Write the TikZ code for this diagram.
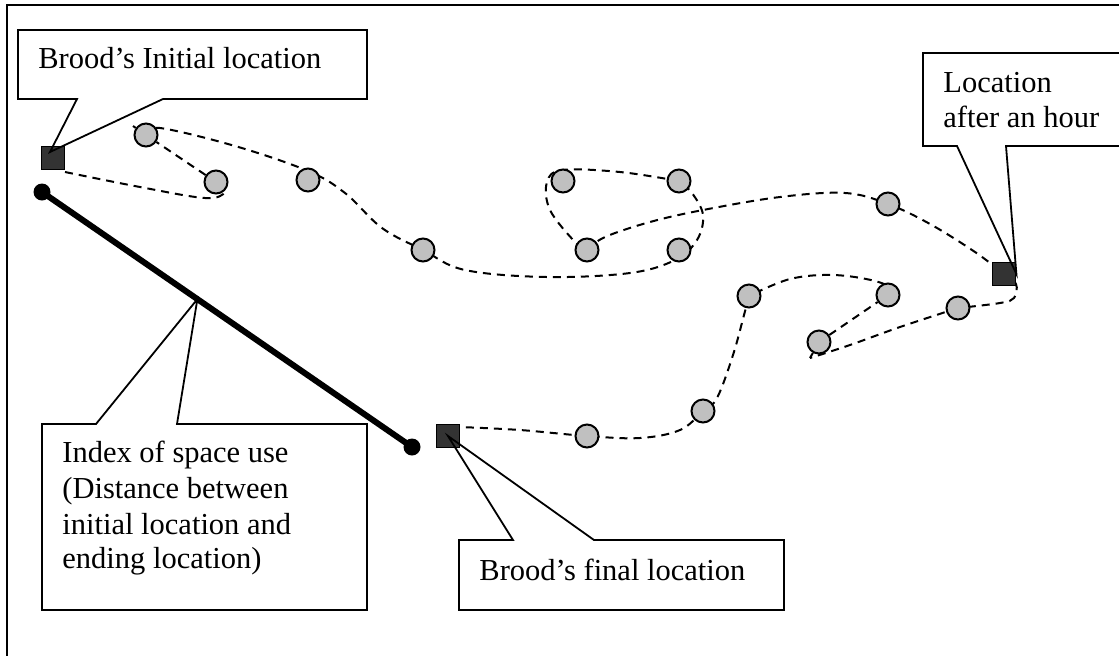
\documentclass[tikz,border=0pt]{standalone}
\usepackage{fontspec}
\setmainfont{Liberation Serif}
\usetikzlibrary{calc}
\pgfdeclarelayer{background}
\pgfsetlayers{background,main}
\definecolor{sqdark}{HTML}{333333}
\definecolor{spotgray}{HTML}{C0C0C0}
\begin{document}
\begin{tikzpicture}[x=0.5pt,y=-0.5pt,
  track/.style={line width=1pt, dash pattern=on 4pt off 3pt},
  spot/.style={circle, draw, fill=spotgray, line width=1pt, minimum size=11.5pt, inner sep=0pt},
  loc/.style={rectangle, draw, fill=sqdark, line width=0.9pt, minimum size=11.5pt, inner sep=0pt},
  enddot/.style={circle, fill=black, minimum size=8.5pt, inner sep=0pt},
  callout/.style={draw, line width=0.9pt, line join=miter},
  lbl/.style={anchor=base west, inner sep=0pt, font=\fontsize{15.25}{17.5}\selectfont}]
\useasboundingbox (0,0) rectangle (1119,655);
% frame
\draw[line width=1pt] (1130,5) -- (7,5) -- (7,665);
% locations
\node[spot] (A) at (146,135) {};
\node[spot] (B) at (216,182) {};
\node[spot] (C) at (308,180) {};
\node[spot] (D) at (423,250) {};
\node[spot] (E) at (563,181) {};
\node[spot] (F) at (679,181) {};
\node[spot] (G) at (587,250) {};
\node[spot] (H) at (679,250) {};
\node[spot] (I) at (888,204) {};
\node[spot] (K) at (958,308) {};
\node[spot] (L) at (819,342) {};
\node[spot] (M) at (888,295) {};
\node[spot] (N) at (749,296) {};
\node[spot] (O) at (703,411) {};
\node[spot] (P) at (587,436) {};
\node[loc] (S1) at (53,158) {};
\node[loc] (J) at (1004,274) {};
\node[loc] (S2) at (448,436) {};
% dashed track
\begin{pgfonlayer}{background}
\draw[track] plot[smooth,tension=0.6] coordinates {(65,172) (140,187) (205,198) (225,192) (B)};
\draw[track] (B) -- (A) -- (133,126);
\draw[track] plot[smooth,tension=0.6] coordinates {(A) (160,128) (235,146) (308,171) (345,193) (382,228) (D) (465,270) (547,277) (630,273) (675,260) (697,240) (703,215) (692,193) (F)};
\draw[track] plot[smooth,tension=0.6] coordinates {(F) (620,172) (563,170) (547,182) (550,210) (575,242) (G)};
\draw[track] plot[smooth,tension=0.6] coordinates {(G) (605,237) (650,222) (703,210) (780,197) (845,193) (I) (930,224) (975,252) (J)};
\draw[track] plot[smooth,tension=0.6] coordinates {(J) (1016,284) (1014,298) (1000,303) (K)};
\draw[track] plot[smooth,tension=0.6] coordinates {(K) (900,327) (850,345) (810,358)};
\draw[track] (810,358) -- (L);
\draw[track] (L) -- (M);
\draw[track] plot[smooth,tension=0.6] coordinates {(M) (899,292) (875,281) (833,275) (790,279) (N)};
\draw[track] plot[smooth,tension=0.6] coordinates {(N) (744,315) (733,355) (717,398) (O) (680,430) (640,438) (P) (520,430) (460,427)};
\end{pgfonlayer}
% index line
\node[enddot] (d1) at (42,192) {};
\node[enddot] (d2) at (412,447) {};
\draw[line width=3pt] (d1.center) -- (d2.center);
% callouts
\coordinate (t1) at ($(S1.center)+(-3,-6)$);
\coordinate (t3) at ($(d1.center)!0.42!(d2.center)$);
\draw[callout] (18,30) -- (367,30) -- (367,99) -- (163,99) -- (t1) -- (77,99) -- (18,99) -- cycle;
\draw[callout] (1130,53) -- (923,53) -- (923,146) -- (957,146) -- (J.east) -- (1006,146) -- (1130,146);
\draw[callout] (42,424) -- (96,424) -- (t3) -- (177,424) -- (367,424) -- (367,610) -- (42,610) -- cycle;
\draw[callout] (459,540) -- (513,540) -- (S2.center) -- (594,540) -- (784,540) -- (784,610) -- (459,610) -- cycle;
% labels
\node[lbl] (l1) at (38,68) {Brood’s Initial location};
\node[lbl] (l2a) at (943,92) {Location};
\node[lbl] (l2b) at (943,127) {after an hour};
\node[lbl] (l3a) at (62,462) {Index of space use};
\node[lbl] (l3b) at (62,498) {(Distance between};
\node[lbl] (l3c) at (62,534) {initial location and};
\node[lbl] (l3d) at (62,568) {ending location)};
\node[lbl] (l4) at (479,580) {Brood’s final location};
\end{tikzpicture}
\end{document}
